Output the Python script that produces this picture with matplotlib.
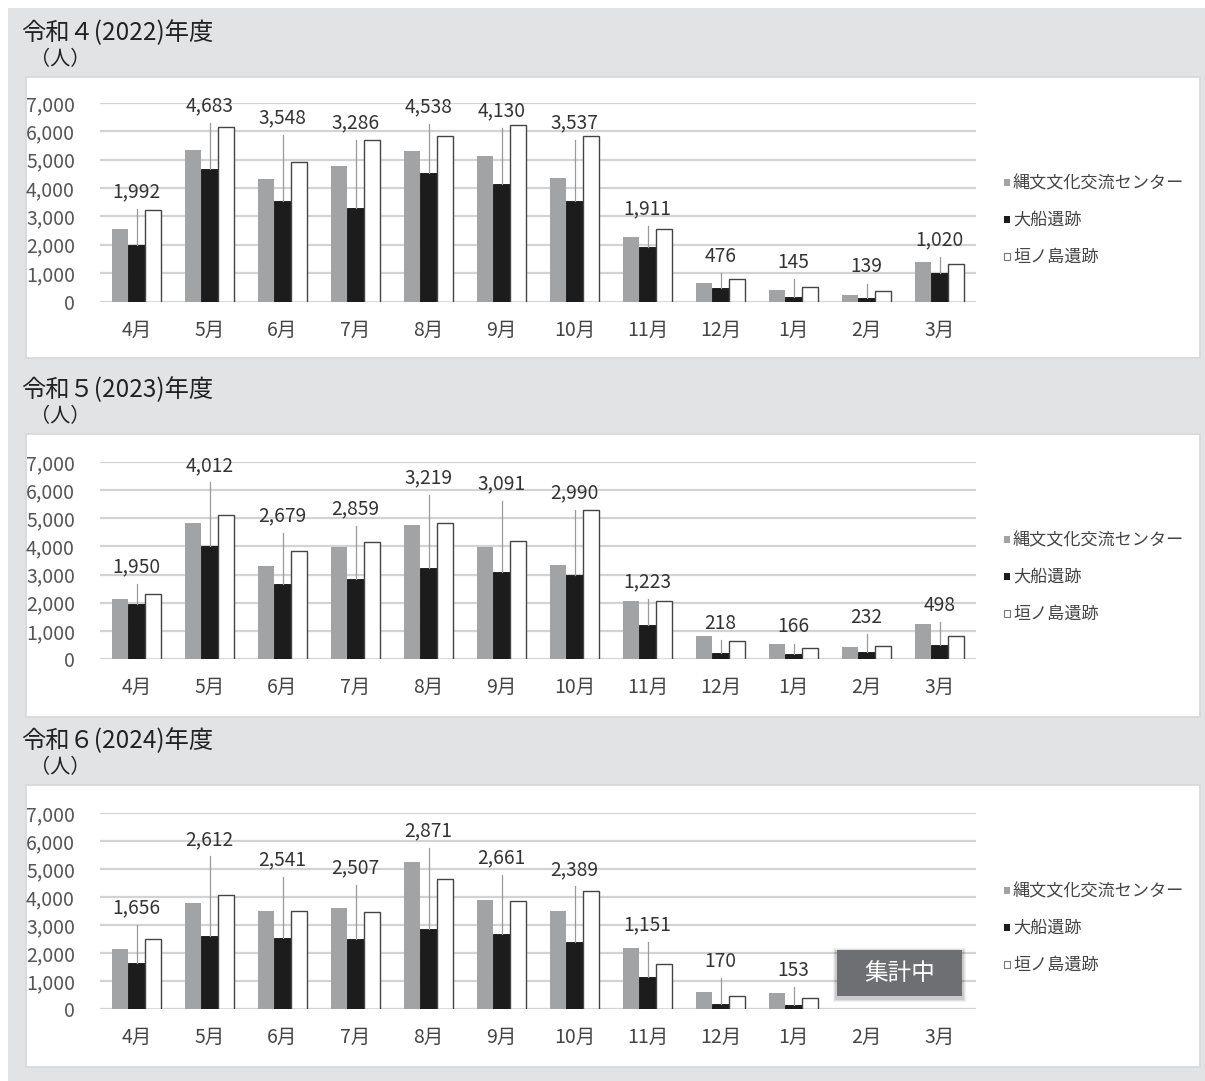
import numpy as np
import matplotlib
matplotlib.use("Agg")
import matplotlib.pyplot as plt
from matplotlib.patches import Rectangle

# データ
months = ["4月", "5月", "6月", "7月", "8月", "9月", "10月", "11月", "12月", "1月", "2月", "3月"]
series_names = ["縄文文化交流センター", "大船遺跡", "垣ノ島遺跡"]
year_titles = ["令和４(2022)年度", "令和５(2023)年度", "令和６(2024)年度"]
y_ticks = [0, 1000, 2000, 3000, 4000, 5000, 6000, 7000]

jomon_2022 = [2570, 5350, 4320, 4790, 5300, 5140, 4370, 2280, 650, 400, 240, 1380]
ofune_2022 = [1992, 4683, 3548, 3286, 4538, 4130, 3537, 1911, 476, 145, 139, 1020]
kakinoshima_2022 = [3230, 6160, 4920, 5690, 5830, 6210, 5840, 2570, 790, 510, 370, 1330]
label_h_2022 = [3870, 6910, 6470, 6290, 6850, 6710, 6290, 3280, 1590, 1390, 1220, 2180]

jomon_2023 = [2140, 4830, 3290, 3980, 4750, 3980, 3350, 2060, 800, 545, 425, 1230]
ofune_2023 = [1950, 4012, 2679, 2859, 3219, 3091, 2990, 1223, 218, 166, 232, 498]
kakinoshima_2023 = [2320, 5100, 3830, 4160, 4840, 4200, 5280, 2050, 640, 380, 475, 820]
label_h_2023 = [3270, 6880, 5080, 5340, 6430, 6230, 5900, 2740, 1260, 1140, 1490, 1910]

jomon_2024 = [2140, 3790, 3490, 3610, 5250, 3900, 3490, 2180, 610, 570, np.nan, np.nan]
ofune_2024 = [1656, 2612, 2541, 2507, 2871, 2661, 2389, 1151, 170, 153, np.nan, np.nan]
kakinoshima_2024 = [2510, 4060, 3490, 3450, 4650, 3850, 4230, 1610, 450, 390, np.nan, np.nan]
label_h_2024 = [3610, 6050, 5330, 5040, 6350, 5390, 4980, 3010, 1700, 1380]

W, H = 1205, 1081
JP_FONT = ["Noto Sans CJK JP", "DejaVu Sans"]
colors = ["#a2a3a5", "#1c1c1c", "#ffffff"]


def fx(px):
    return px / W


def fy(py):
    return 1 - py / H


def fig_rect(x0, y0, x1, y1, **kw):
    return Rectangle((fx(x0), fy(y1)), (x1 - x0) / W, (y1 - y0) / H,
                     transform=fig.transFigure, **kw)


fig = plt.figure(figsize=(W / 100, H / 100), dpi=100)
fig.patch.set_facecolor("white")
fig.patches.append(fig_rect(8, 8, W, H, facecolor="#e2e3e5", edgecolor="none", zorder=-3))

# Panel-Layout (Pixel): Box oben/unten, Gitter 7000 / 0
panels = [
    (jomon_2022, ofune_2022, kakinoshima_2022, label_h_2022, 77, 358, 103, 301.5),
    (jomon_2023, ofune_2023, kakinoshima_2023, label_h_2023, 434, 717, 462, 659),
    (jomon_2024, ofune_2024, kakinoshima_2024, label_h_2024, 785, 1067, 813, 1009),
]

x = np.arange(len(months))
bw = 0.22

for i, (jomon, ofune, kaki, label_h, box_top, box_bot, y7, y0) in enumerate(panels):
    fig.patches.append(fig_rect(26, box_top, 1200, box_bot, facecolor="white",
                                edgecolor="#d6d7d9", linewidth=1.2, zorder=-2))
    fig.text(fx(21), fy(box_top - 44), year_titles[i], family=JP_FONT, fontsize=17.5,
             color="#222222", ha="left", va="center")
    fig.text(fx(30), fy(box_top - 17), "（人）", family=JP_FONT, fontsize=14.5,
             color="#222222", ha="left", va="center")

    ax = fig.add_axes([fx(100), fy(y0), 876 / W, (y0 - y7) / H])
    ax.set_zorder(2)
    ax.set_facecolor("none")
    ax.set_xlim(-0.5, len(months) - 0.5)
    ax.set_ylim(0, 7000)
    for s in ax.spines.values():
        s.set_visible(False)
    ax.set_yticks(y_ticks)
    ax.set_yticklabels([f"{v:,}" for v in y_ticks], family=JP_FONT,
                       fontsize=14, color="#555555")
    ax.set_xticks(x)
    ax.set_xticklabels(months, family=JP_FONT, fontsize=14, color="#444444")
    ax.tick_params(axis="y", length=0, pad=18)
    ax.tick_params(axis="x", length=0, pad=13)
    ax.grid(axis="y", color="#d3d3d3", linewidth=1.6, zorder=0)
    ax.set_axisbelow(True)

    ax.bar(x - bw, jomon, bw, color=colors[0], edgecolor="none", zorder=2)
    ax.bar(x, ofune, bw, color=colors[1], edgecolor="#111111", linewidth=0.6, zorder=2)
    ax.bar(x + bw, kaki, bw, color=colors[2], edgecolor="#444444", linewidth=1.0, zorder=2)

    # 大船遺跡の値ラベルと引き出し線
    for xi, val, lh in zip(x, ofune, label_h):
        ax.plot([xi, xi], [val, lh - 600], color="#9a9a9a", linewidth=0.9, zorder=3)
        ax.text(xi, lh, f"{int(val):,}", ha="center", va="center", family=JP_FONT,
                fontsize=13.8, color="#333333", zorder=4)

    # 凡例
    for k, name in enumerate(series_names):
        ly = box_top + 106 + 37 * k
        fig.patches.append(fig_rect(1004, ly - 4, 1010, ly + 3, facecolor=colors[k],
                                    edgecolor="#777777" if k == 2 else "none",
                                    linewidth=0.8, zorder=3))
        fig.text(fx(1013), fy(ly), name, family=JP_FONT, fontsize=12.3,
                 color="#444444", ha="left", va="center")

# 集計中
for k, a in enumerate([0.05, 0.07, 0.09]):
    d = 4 - k
    fig.patches.append(fig_rect(837 - d, 950 - d + 2, 962 + d, 996 + d + 2,
                                facecolor="#000000", alpha=a, edgecolor="none", zorder=5))
fig.patches.append(fig_rect(837, 950, 962, 996, facecolor="#6e6f72", edgecolor="none", zorder=6))
fig.text(fx(900), fy(973), "集計中", family=JP_FONT, fontsize=17, color="white",
         ha="center", va="center", zorder=7)

fig.savefig("out.png", dpi=100)
